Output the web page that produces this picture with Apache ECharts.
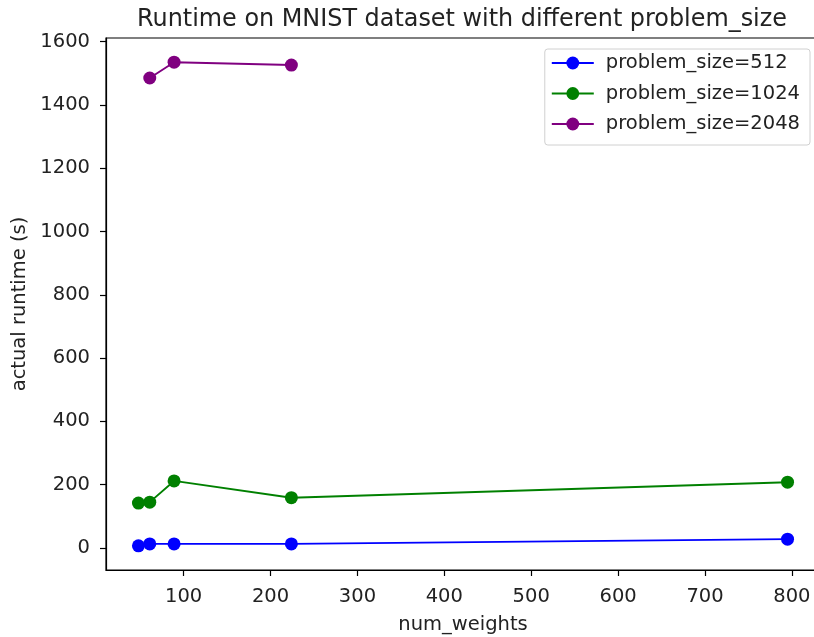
<!DOCTYPE html>
<html>
<head>
<meta charset="utf-8">
<title>Runtime on MNIST</title>
<script src="https://cdn.jsdelivr.net/npm/echarts@6/dist/echarts.min.js"></script>
<style>
  html, body { margin: 0; padding: 0; background: #fff; }
  #chart { width: 814px; height: 637px; }
</style>
</head>
<body>
<div id="chart"></div>
<script>
// data
const weights512 = [48, 61, 89, 224, 795]
const runtime512 = [7, 13, 13, 13, 28]
const weights1024 = [48, 61, 89, 224, 795]
const runtime1024 = [142, 145, 212, 159, 208]
const weights2048 = [61, 89, 224]
const runtime2048 = [1485, 1535, 1526]

const seriesNames = ['problem_size=512', 'problem_size=1024', 'problem_size=2048']
const seriesColors = ['#0000ff', '#008000', '#800080']

const xTicks = [100, 200, 300, 400, 500, 600, 700, 800]
const yTicks = [0, 200, 400, 600, 800, 1000, 1200, 1400, 1600]

const pairs = (xs, ys) => xs.map((x, i) => [x, ys[i]])

const font = 'DejaVu Sans'
const textColor = '#222'
const fontSize = 19.5

const chart = echarts.init(document.getElementById('chart'))

const makeSeries = (name, color, data) => ({
  name,
  type: 'line',
  data,
  symbol: 'circle',
  symbolSize: 13,
  lineStyle: { color, width: 1.9 },
  itemStyle: { color },
  emphasis: { disabled: true },
  animation: false
})

const option = {
  backgroundColor: '#fff',
  textStyle: { fontFamily: font },
  title: {
    text: 'Runtime on MNIST dataset with different problem_size',
    left: 132,
    top: 3,
    textStyle: { fontFamily: font, fontSize: 23.9, fontWeight: 'normal', color: textColor }
  },
  legend: {
    orient: 'vertical',
    right: 4,
    top: 49,
    itemWidth: 42,
    itemHeight: 16,
    itemGap: 10.5,
    padding: [4, 10, 11, 6],
    borderColor: '#d0d0d0',
    borderWidth: 1,
    borderRadius: 3,
    backgroundColor: 'rgba(255,255,255,0.8)',
    textStyle: { fontFamily: font, fontSize: fontSize, color: textColor, padding: [0, 0, 0, 7] },
    data: seriesNames
  },
  grid: {
    left: 106,
    right: -6,
    top: 38,
    bottom: 67,
    outerBoundsMode: 'none',
    containLabel: false,
    show: true,
    borderColor: '#000',
    borderWidth: 1.2
  },
  xAxis: {
    type: 'value',
    min: 10.65,
    max: 832.35,
    name: 'num_weights',
    nameLocation: 'middle',
    nameGap: 45,
    nameTextStyle: { fontFamily: font, fontSize: fontSize, color: textColor },
    axisLine: { show: true, onZero: false, lineStyle: { color: '#000', width: 1.2 } },
    axisTick: { show: true, length: 6, lineStyle: { color: '#000', width: 1.2 }, customValues: xTicks },
    axisLabel: { fontFamily: font, fontSize: fontSize, color: textColor, margin: 17, customValues: xTicks },
    splitLine: { show: false }
  },
  yAxis: {
    type: 'value',
    min: -69.4,
    max: 1611.4,
    name: 'actual runtime (s)',
    nameLocation: 'middle',
    nameGap: 72,
    nameTextStyle: { fontFamily: font, fontSize: fontSize, color: textColor },
    axisLine: { show: true, onZero: false, lineStyle: { color: '#000', width: 1.2 } },
    axisTick: { show: true, length: 6, lineStyle: { color: '#000', width: 1.2 }, customValues: yTicks },
    axisLabel: {
      fontFamily: font,
      fontSize: fontSize,
      color: textColor,
      margin: 16,
      customValues: yTicks,
      formatter: (v) => String(v)
    },
    splitLine: { show: false }
  },
  series: [
    makeSeries(seriesNames[0], seriesColors[0], pairs(weights512, runtime512)),
    makeSeries(seriesNames[1], seriesColors[1], pairs(weights1024, runtime1024)),
    makeSeries(seriesNames[2], seriesColors[2], pairs(weights2048, runtime2048))
  ]
}

chart.setOption(option)
</script>
</body>
</html>
